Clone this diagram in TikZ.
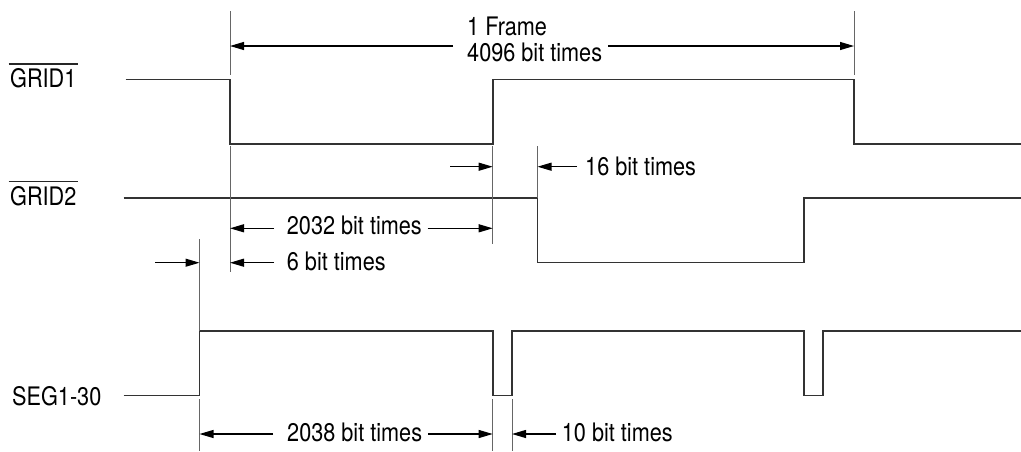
\documentclass[tikz,border=0pt]{standalone}
\usepackage{fontspec}
\setmainfont{TeX Gyre Heros}[FakeStretch=0.85]
\usetikzlibrary{arrows.meta}
\begin{document}
\begin{tikzpicture}[x=1pt,y=-1pt,
  wave/.style={line width=1.6pt, draw=black!80, line join=miter},
  ext/.style={line width=0.9pt, draw=black!60},
  ovl/.style={line width=1.2pt, draw=black!85},
  arr/.style={line width=1.1pt, draw=black, -{Triangle[length=14pt,width=8pt]}},
  lbl/.style={inner sep=0pt, anchor=base west, font=\fontsize{25.5}{28}\selectfont}]
\useasboundingbox (0,0) rectangle (1021,451);
% edge markers
\coordinate (xa) at (199.5,0);
\coordinate (xb) at (230,0);
\coordinate (xc) at (492.7,0);
\coordinate (xd) at (512,0);
\coordinate (xe) at (537.5,0);
\coordinate (xh) at (854,0);
% signal labels
\node[lbl] (g1) at (10,87.7) {GRID1};
\node[lbl] (g2) at (10,205) {GRID2};
\node[lbl] (seg) at (12,405) {SEG1-30};
\draw[ovl] ([xshift=-1.5pt,yshift=4.5pt]g1.north west) -- ([xshift=1.5pt,yshift=4.5pt]g1.north east);
\draw[ovl] ([xshift=-1.5pt,yshift=4.5pt]g2.north west) -- ([xshift=1.5pt,yshift=4.5pt]g2.north east);
% waveforms
\draw[wave] (125.5,79.3) -- (230,79.3) -- (230,143.7) -- (492.7,143.7) -- (492.7,79.3)
  -- (854,79.3) -- (854,143.7) -- (1021,143.7);
\draw[wave] (123.5,198) -- (537.5,198) -- (537.5,262.5) -- (804,262.5) -- (804,198) -- (1021,198);
\draw[wave] (123.5,395.5) -- (199.5,395.5) -- (199.5,331) -- (492.7,331) -- (492.7,395.5)
  -- (512,395.5) -- (512,331) -- (804,331) -- (804,395.5) -- (822.7,395.5) -- (822.7,331) -- (1021,331);
% extension lines
\draw[ext] (230,11) -- (230,75);
\draw[ext] (854,11) -- (854,75);
\draw[ext] (230,146) -- (230,272);
\draw[ext] (492.7,146) -- (492.7,244);
\draw[ext] (537.5,146) -- (537.5,198);
\draw[ext] (199.5,239) -- (199.5,331);
\draw[ext] (199.5,399) -- (199.5,451);
\draw[ext] (492.7,399) -- (492.7,451);
\draw[ext] (512,399) -- (512,451);
% dimension texts
\node[lbl] (fr1) at (467,35) {1 Frame};
\node[lbl] (fr2) at (467,61) {4096 bit times};
\node[lbl] (t16) at (585,175) {16 bit times};
\node[lbl] (t2032) at (286.7,234) {2032 bit times};
\node[lbl] (t6) at (286.7,270) {6 bit times};
\node[lbl] (t2038) at (287,441.7) {2038 bit times};
\node[lbl] (t10) at (561.7,441.7) {10 bit times};
% arrow tails
\coordinate (aF1) at (453,46);
\coordinate (aF2) at (608,46);
\coordinate (a16a) at (450,166.7);
\coordinate (a16b) at (577,166.7);
\coordinate (a32a) at (274,228.3);
\coordinate (a32b) at (427.7,228.3);
\coordinate (a6a) at (274,262.7);
\coordinate (a6b) at (155,262.7);
\coordinate (a38a) at (273,434);
\coordinate (a38b) at (428,434);
\coordinate (a10) at (556,434);
% arrows
\draw[arr] (aF1) -- (aF1 -| xb);
\draw[arr] (aF2) -- (aF2 -| xh);
\draw[arr] (a16a) -- (a16a -| xc);
\draw[arr] (a16b) -- (a16b -| xe);
\draw[arr] (a32a) -- (a32a -| xb);
\draw[arr] (a32b) -- (a32b -| xc);
\draw[arr] (a6a) -- (a6a -| xb);
\draw[arr] (a6b) -- (a6b -| xa);
\draw[arr] (a38a) -- (a38a -| xa);
\draw[arr] (a38b) -- (a38b -| xc);
\draw[arr] (a10) -- (a10 -| xd);
\end{tikzpicture}
\end{document}
